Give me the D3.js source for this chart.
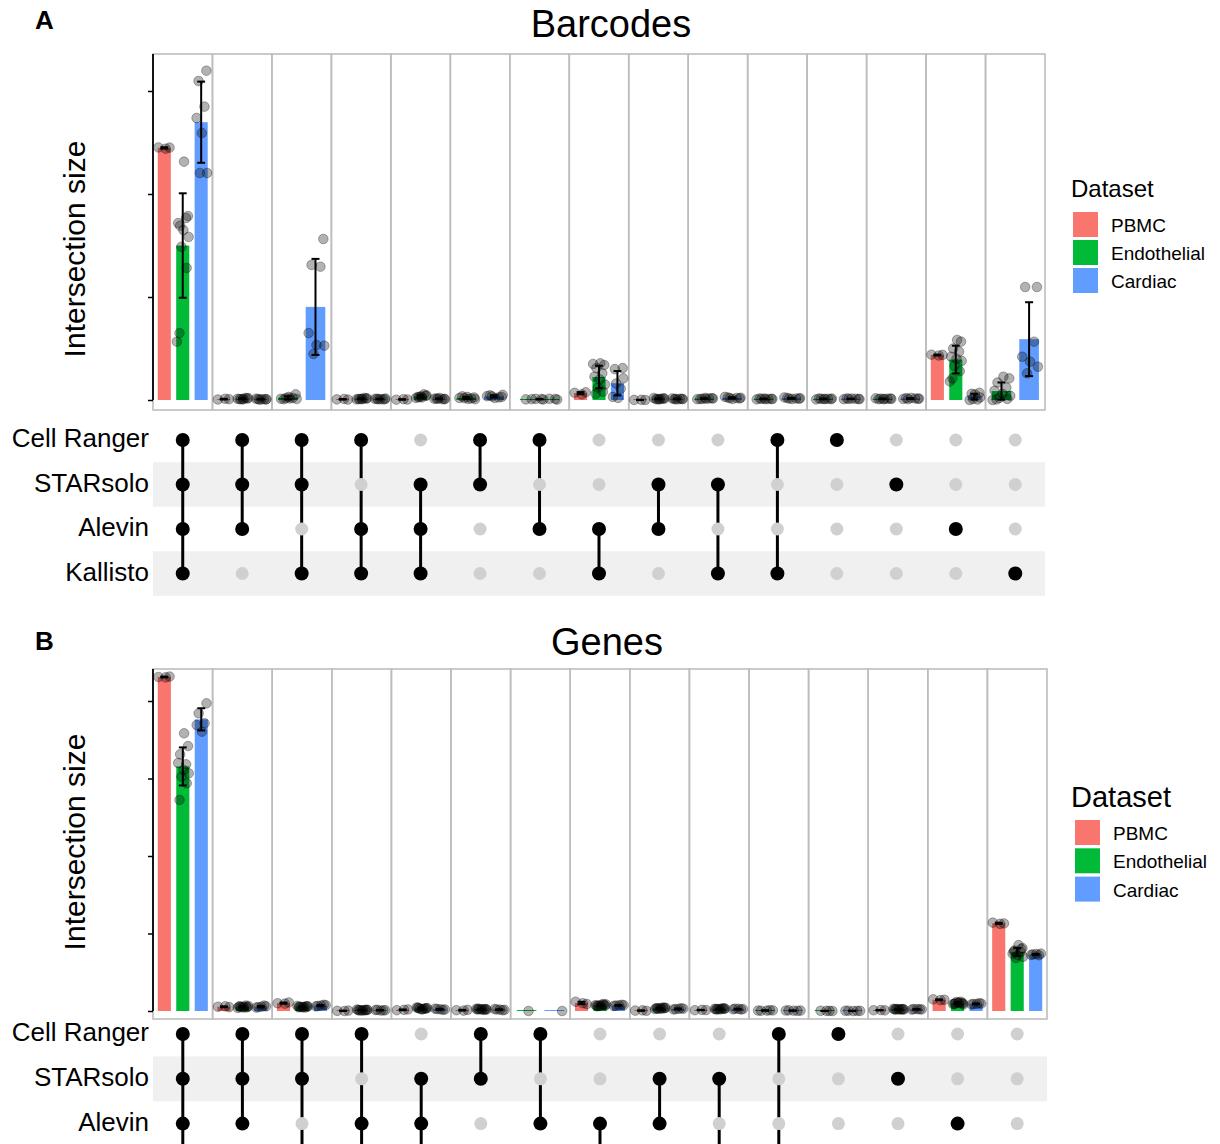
<!DOCTYPE html>
<html>

<head>
    <meta http-equiv="Content-Type" content="text/html; charset=utf-8">
    <title>UpSet - Barcodes / Genes</title>

    <style type="text/css">
        html,
        body {
            margin: 0;
            padding: 0;
            background: #fff;
        }

        svg {
            display: block;
        }

        text {
            font-family: "Liberation Sans", Arial, sans-serif;
            fill: #000;
        }
    </style>
</head>

<body>

    <script src="https://d3js.org/d3.v7.min.js"></script>

    <script>
        var tools = ["Cell Ranger", "STARsolo", "Alevin", "Kallisto"];
        var datasets = ["PBMC", "Endothelial", "Cardiac"];
        var colors = ["#F8766D", "#00BA38", "#619CFF"];

        // intersections, left to right (same order in both panels)
        var intersections = [
            ["Cell Ranger", "STARsolo", "Alevin", "Kallisto"],
            ["Cell Ranger", "STARsolo", "Alevin"],
            ["Cell Ranger", "STARsolo", "Kallisto"],
            ["Cell Ranger", "Alevin", "Kallisto"],
            ["STARsolo", "Alevin", "Kallisto"],
            ["Cell Ranger", "STARsolo"],
            ["Cell Ranger", "Alevin"],
            ["Alevin", "Kallisto"],
            ["STARsolo", "Alevin"],
            ["STARsolo", "Kallisto"],
            ["Cell Ranger", "Kallisto"],
            ["Cell Ranger"],
            ["STARsolo"],
            ["Alevin"],
            ["Kallisto"]
        ];

        // per-sample intersection sizes, one list per intersection (empty = not present)
        var barcodesPBMC = [
            [2452, 2440, 2450], [5, 12, 8], [], [6, 10, 4], [3, 8, 5], [], [],
            [70, 55, 75], [1, 2, 0], [], [], [], [], [440, 432, 438], []
        ];
        var barcodesEndothelial = [
            [2314, 1786, 1692, 1767, 1718, 1650, 1583, 1488, 1282, 650, 566],
            [10, 15, 8, 20, 12, 6, 18, 9],
            [15, 55, 8, 20, 12, 30, 10, 18],
            [8, 14, 10, 20, 6, 12, 16, 9],
            [25, 40, 30, 55, 20, 35, 45, 28],
            [10, 25, 35, 15, 20, 30, 8, 18],
            [5, 10, 8, 12, 6, 9, 4, 11],
            [356, 340, 310, 260, 226, 200, 150, 120, 80, 60, 350],
            [10, 15, 8, 12, 20, 6, 14, 9],
            [12, 18, 10, 15, 8, 20, 14, 11],
            [8, 12, 15, 10, 6, 14, 9, 11],
            [10, 8, 15, 12, 6, 9, 14, 11],
            [10, 14, 8, 12, 16, 9, 11, 13],
            [583, 567, 500, 470, 420, 400, 380, 330, 280, 210, 180],
            [226, 210, 170, 120, 90, 60, 40, 20, 10, 5, 0]
        ];
        var barcodesCardiac = [
            [3197, 3097, 2848, 2738, 2592, 2204, 2204],
            [5, 10, 8, 12, 6, 9, 4],
            [1563, 1311, 1294, 650, 534, 527, 447],
            [8, 12, 6, 10, 9, 14, 7],
            [10, 15, 8, 12, 20, 9, 11],
            [30, 45, 25, 38, 20, 50, 35],
            [],
            [310, 300, 110, 30, 20, 210, 160],
            [10, 8, 12, 15, 6, 9, 11],
            [15, 25, 20, 30, 10, 22, 18],
            [12, 20, 15, 25, 10, 18, 14],
            [10, 15, 12, 8, 14, 9, 11],
            [12, 18, 15, 10, 20, 14, 9],
            [70, 60, 5, 0, 55, 25, 10],
            [1097, 1097, 566, 420, 372, 323, 259]
        ];

        var genesPBMC = [
            [4310, 4305, 4315], [55, 60, 50], [100, 95, 110], [2, 0, 5], [10, 15, 20],
            [10, 5, 15], [], [120, 100, 90], [5, 8, 3], [10, 15, 12], [], [],
            [10, 12, 8], [150, 140, 145], [1140, 1125, 1130]
        ];
        var genesEndothelial = [
            [3583, 3419, 3312, 3183, 3200, 3110, 3067, 3023, 2938, 2723],
            [45, 50, 60, 70, 40, 55, 65, 50, 48, 58],
            [50, 60, 55, 45, 65, 50, 58, 52, 62, 48],
            [10, 15, 8, 12, 20, 6, 14, 9, 11, 13],
            [25, 35, 40, 30, 45, 20, 38, 28, 32, 42],
            [20, 25, 30, 15, 28, 22, 18, 26, 24, 19],
            [0],
            [80, 70, 60, 90, 75, 65, 85, 70, 78, 68],
            [30, 40, 35, 45, 25, 38, 42, 28, 33, 36],
            [25, 30, 20, 35, 28, 22, 32, 26, 30, 24],
            [5, 8, 3, 10, 6],
            [2, 0, 3, 1],
            [20, 25, 18, 22, 28, 24, 19, 26, 21, 23],
            [110, 100, 95, 120, 90, 105, 85, 115, 98, 92],
            [850, 812, 780, 760, 740, 720, 700, 684, 800, 770]
        ];
        var genesCardiac = [
            [3970, 3841, 3712, 3690, 3604],
            [60, 50, 70, 45, 55],
            [75, 65, 80, 60, 70],
            [10, 15, 8, 12, 6],
            [20, 25, 15, 30, 22],
            [15, 20, 10, 25, 18],
            [0],
            [75, 70, 80, 65, 72],
            [30, 25, 35, 20, 28],
            [25, 30, 20, 22, 28],
            [5, 8, 2, 6, 4],
            [2, 4, 1, 3, 0],
            [20, 25, 22, 18, 24],
            [95, 90, 100, 85, 92],
            [740, 730, 720, 725, 735]
        ];

        var barcodesTicks = [0, 1000, 2000, 3000];
        var genesTicks = [0, 1000, 2000, 3000, 4000];

        // fixed jitter pattern for the sample points
        var jit = [-0.9, 0.2, 0.8, -0.4, 0.5, -0.7, 0.1, 0.9, -0.2, 0.6, -0.5];

        var W = 1220, H = 1144;
        var svg = d3.select("body")
            .append("svg")
            .attr("width", W)
            .attr("height", H);

        function drawPanel(p) {
            var g = svg.append("g");

            var x = d3.scaleBand()
                .domain(d3.range(intersections.length))
                .range([p.x0, p.x1]);
            var cw = x.bandwidth();

            var y = d3.scaleLinear()
                .domain([0, p.ticks[p.ticks.length - 1]])
                .range([p.base, p.tickTop]);

            // facet panels
            g.selectAll("rect.panel")
                .data(intersections)
                .enter().append("rect")
                .attr("class", "panel")
                .attr("x", (d, i) => x(i))
                .attr("y", p.top)
                .attr("width", cw)
                .attr("height", p.bottom - p.top)
                .style("fill", "none")
                .style("stroke", "#bdbdbd")
                .style("stroke-width", 1.6);

            // y axis without labels
            var axis = g.append("g")
                .attr("transform", "translate(" + p.x0 + ",0)")
                .call(d3.axisLeft(y).tickValues(p.ticks).tickFormat("").tickSize(5).tickSizeOuter(0));
            axis.select(".domain").remove();
            axis.selectAll(".tick line").style("stroke", "#000").style("stroke-width", 1.5);
            g.append("line")
                .attr("x1", p.x0).attr("x2", p.x0)
                .attr("y1", p.top).attr("y2", y(0))
                .style("stroke", "#000")
                .style("stroke-width", 1.8);

            var barLayer = g.append("g");
            var ptLayer = g.append("g");
            var errLayer = g.append("g");

            intersections.forEach(function (set, c) {
                var groups = datasets.map(function (d, k) {
                    return { k: k, pts: p.series[k][c] };
                }).filter(gr => gr.pts.length > 0);
                var n = groups.length;
                var step = cw * 0.93 / n;
                var bw = cw * 0.66 / n;

                groups.forEach(function (gr, j) {
                    var cx = x(c) + cw / 2 + (j - (n - 1) / 2) * step;
                    var m = d3.mean(gr.pts);
                    var h = Math.max(y(0) - y(m), 1);

                    barLayer.append("rect")
                        .attr("x", cx - bw / 2)
                        .attr("y", y(0) - h)
                        .attr("width", bw)
                        .attr("height", h)
                        .style("fill", colors[gr.k]);

                    ptLayer.selectAll(null)
                        .data(gr.pts)
                        .enter().append("circle")
                        .attr("cx", (v, i) => cx + jit[(i + gr.k) % jit.length] * bw * 0.5)
                        .attr("cy", v => y(v))
                        .attr("r", 4.8)
                        .style("fill", "#000")
                        .style("fill-opacity", 0.3)
                        .style("stroke", "#000")
                        .style("stroke-opacity", 0.3)
                        .style("stroke-width", 1);

                    // mean +/- sd, none for a single sample
                    if (gr.pts.length < 2) return;
                    var sd = d3.deviation(gr.pts);
                    var cap = Math.min(bw * 0.3, 4);
                    var lo = Math.max(m - sd, 0), hi = m + sd;
                    var eb = errLayer.append("g").style("stroke", "#000").style("stroke-width", 2);
                    eb.append("line").attr("x1", cx).attr("x2", cx).attr("y1", y(lo)).attr("y2", y(hi));
                    eb.append("line").attr("x1", cx - cap).attr("x2", cx + cap).attr("y1", y(lo)).attr("y2", y(lo));
                    eb.append("line").attr("x1", cx - cap).attr("x2", cx + cap).attr("y1", y(hi)).attr("y2", y(hi));
                });
            });

            // matrix
            var rowY = d3.scalePoint()
                .domain(tools)
                .range([p.matTop, p.matTop + 3 * p.rowStep]);

            g.selectAll("rect.band")
                .data(tools.filter((t, i) => i % 2 == 1))
                .enter().append("rect")
                .attr("x", p.x0)
                .attr("y", t => rowY(t) - p.rowStep / 2)
                .attr("width", p.x1 - p.x0)
                .attr("height", p.rowStep)
                .style("fill", "#f0f0f0");

            // only the row labels that fall on the page
            g.selectAll("text.tool")
                .data(tools.filter(t => rowY(t) + 7 < H))
                .enter().append("text")
                .attr("x", 149)
                .attr("y", t => rowY(t) + 7)
                .attr("text-anchor", "end")
                .style("font-size", "26px")
                .text(t => t);

            intersections.forEach(function (set, c) {
                var cx = x(c) + cw / 2;
                var ys = set.map(t => rowY(t));
                if (set.length > 1) {
                    g.append("line")
                        .attr("x1", cx).attr("x2", cx)
                        .attr("y1", d3.min(ys)).attr("y2", d3.max(ys))
                        .style("stroke", "#000")
                        .style("stroke-width", 3);
                }
                tools.forEach(function (t) {
                    var on = set.indexOf(t) >= 0;
                    g.append("circle")
                        .attr("cx", cx)
                        .attr("cy", rowY(t))
                        .attr("r", on ? 7 : 6.5)
                        .style("fill", on ? "#000" : "#d0d0d0");
                });
            });

            // titles
            g.append("text")
                .attr("x", p.titleX)
                .attr("y", p.titleY)
                .attr("text-anchor", "middle")
                .style("font-size", "38px")
                .text(p.title);

            g.append("text")
                .attr("x", 35)
                .attr("y", p.tagY)
                .style("font-size", "26px")
                .style("font-weight", "bold")
                .text(p.tag);

            g.append("text")
                .attr("transform", "translate(85," + p.ylabY + ") rotate(-90)")
                .attr("text-anchor", "middle")
                .style("font-size", "30px")
                .text("Intersection size");

            // legend
            var lg = g.append("g");
            lg.append("text")
                .attr("x", 1071)
                .attr("y", p.legTitleY)
                .style("font-size", p.legTitleSize + "px")
                .text("Dataset");
            datasets.forEach(function (d, k) {
                lg.append("rect")
                    .attr("x", p.legX)
                    .attr("y", p.legY + k * p.legStep)
                    .attr("width", 25)
                    .attr("height", 25)
                    .style("fill", colors[k]);
                lg.append("text")
                    .attr("x", p.legX + 38)
                    .attr("y", p.legY + k * p.legStep + 20)
                    .style("font-size", "19px")
                    .text(d);
            });
        }

        drawPanel({
            series: [barcodesPBMC, barcodesEndothelial, barcodesCardiac],
            ticks: barcodesTicks,
            x0: 153, x1: 1045, top: 54, bottom: 410, base: 400, tickTop: 91,
            matTop: 440, rowStep: 44.5,
            title: "Barcodes", titleX: 611, titleY: 37,
            tag: "A", tagY: 29, ylabY: 249,
            legTitleY: 197, legTitleSize: 24, legX: 1073, legY: 212, legStep: 28
        });

        drawPanel({
            series: [genesPBMC, genesEndothelial, genesCardiac],
            ticks: genesTicks,
            x0: 153, x1: 1047, top: 669, bottom: 1019, base: 1011, tickTop: 701,
            matTop: 1034, rowStep: 44.8,
            title: "Genes", titleX: 607, titleY: 655,
            tag: "B", tagY: 650, ylabY: 842,
            legTitleY: 807, legTitleSize: 29, legX: 1075, legY: 820, legStep: 28.3
        });
    </script>

</body>

</html>
